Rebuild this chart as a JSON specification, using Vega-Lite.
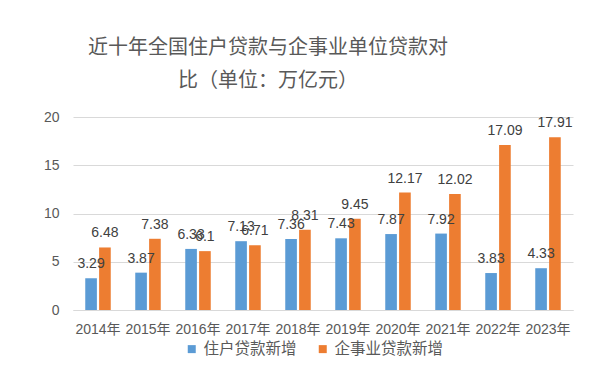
{
  "$schema": "https://vega.github.io/schema/vega-lite/v6.json",
  "autosize": "none",
  "width": 500,
  "height": 193,
  "padding": {"left": 73, "top": 117, "right": 36, "bottom": 76},
  "background": "white",
  "title": {
    "text": ["近十年全国住户贷款与企事业单位贷款对", "比（单位：万亿元）"],
    "anchor": "middle",
    "dx": -55,
    "offset": 19,
    "fontSize": 20,
    "lineHeight": 33,
    "font": "Noto Sans CJK SC",
    "fontWeight": "normal",
    "color": "#595959"
  },
  "data": {
    "values": [
      {"year": "2014年", "series": "住户贷款新增", "value": 3.29},
      {"year": "2015年", "series": "住户贷款新增", "value": 3.87},
      {"year": "2016年", "series": "住户贷款新增", "value": 6.33},
      {"year": "2017年", "series": "住户贷款新增", "value": 7.13},
      {"year": "2018年", "series": "住户贷款新增", "value": 7.36},
      {"year": "2019年", "series": "住户贷款新增", "value": 7.43},
      {"year": "2020年", "series": "住户贷款新增", "value": 7.87},
      {"year": "2021年", "series": "住户贷款新增", "value": 7.92},
      {"year": "2022年", "series": "住户贷款新增", "value": 3.83},
      {"year": "2023年", "series": "住户贷款新增", "value": 4.33},
      {"year": "2014年", "series": "企事业贷款新增", "value": 6.48},
      {"year": "2015年", "series": "企事业贷款新增", "value": 7.38},
      {"year": "2016年", "series": "企事业贷款新增", "value": 6.1},
      {"year": "2017年", "series": "企事业贷款新增", "value": 6.71},
      {"year": "2018年", "series": "企事业贷款新增", "value": 8.31},
      {"year": "2019年", "series": "企事业贷款新增", "value": 9.45},
      {"year": "2020年", "series": "企事业贷款新增", "value": 12.17},
      {"year": "2021年", "series": "企事业贷款新增", "value": 12.02},
      {"year": "2022年", "series": "企事业贷款新增", "value": 17.09},
      {"year": "2023年", "series": "企事业贷款新增", "value": 17.91}
    ]
  },
  "encoding": {
    "x": {
      "field": "year",
      "type": "nominal",
      "sort": null,
      "scale": {"paddingInner": 0.49, "paddingOuter": 0.245},
      "axis": {
        "title": null,
        "labelAngle": 0,
        "labelFontSize": 14,
        "labelFont": "Liberation Sans, Noto Sans CJK SC",
        "labelColor": "#595959",
        "labelPadding": 12,
        "ticks": false,
        "domain": true,
        "domainColor": "#d9d9d9",
        "labelOverlap": false
      }
    },
    "xOffset": {
      "field": "series",
      "type": "nominal",
      "sort": ["住户贷款新增", "企事业贷款新增"],
      "scale": {"paddingInner": 0.16}
    },
    "y": {
      "field": "value",
      "type": "quantitative",
      "scale": {"domain": [0, 20]},
      "axis": {
        "title": null,
        "values": [0, 5, 10, 15, 20],
        "labelFontSize": 14,
        "labelFont": "Liberation Sans",
        "labelColor": "#595959",
        "labelPadding": 14,
        "ticks": false,
        "domain": false,
        "gridColor": "#d9d9d9",
        "gridWidth": 1
      }
    }
  },
  "layer": [
    {
      "mark": {"type": "bar"},
      "encoding": {
        "color": {
          "field": "series",
          "type": "nominal",
          "sort": ["住户贷款新增", "企事业贷款新增"],
          "scale": {"range": ["#5B9BD5", "#ED7D31"]},
          "legend": {
            "title": null,
            "orient": "none",
            "direction": "horizontal",
            "legendX": 111,
            "legendY": 224,
            "symbolType": "square",
            "symbolSize": 64,
            "symbolStrokeWidth": 0,
            "labelFontSize": 15.5,
            "labelFont": "Noto Sans CJK SC",
            "labelColor": "#595959",
            "columnPadding": 18,
            "labelOffset": 4
          }
        }
      }
    },
    {
      "mark": {
        "type": "text",
        "baseline": "bottom",
        "dy": -7,
        "fontSize": 14,
        "font": "Liberation Sans",
        "color": "#404040"
      },
      "encoding": {
        "text": {"field": "value", "type": "quantitative"}
      }
    }
  ],
  "config": {"view": {"stroke": null}}
}
